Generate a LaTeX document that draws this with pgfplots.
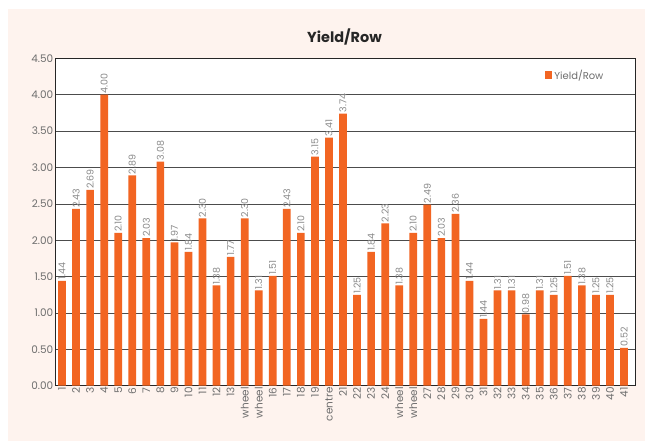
\documentclass[border=0pt]{standalone}
\usepackage{fontspec}
\setmainfont{Poppins}
\usepackage{pgfplots}
\pgfplotsset{compat=1.18}
\definecolor{barc}{HTML}{F26522}
\definecolor{bgc}{HTML}{FEF3EE}
\definecolor{txt}{HTML}{6E6E6E}
\definecolor{lbl}{HTML}{8A8A8A}
\begin{document}
\begin{tikzpicture}
\fill[white] (0bp,0bp) rectangle (645bp,441bp);
\fill[bgc] (8bp,0bp) rectangle (645bp,432bp);
\node[font=\bfseries\fontsize{14.5}{16}\selectfont, text=black!85] at (344.5bp,404bp) {Yield/Row};
\begin{axis}[
  at={(55bp,55.3bp)}, anchor=south west,
  scale only axis, width=580bp, height=327.4bp,
  ybar, bar width=7.7bp,
  ymin=0, ymax=4.5, ytick={0,0.5,...,4.5},
  xmin=0.5, xmax=41.78,
  xtick={1,...,41},
  xticklabels={1,2,3,4,5,6,7,8,9,10,11,12,13,wheel,wheel,16,17,18,19,centre,21,22,23,24,wheel,wheel,27,28,29,30,31,32,33,34,35,36,37,38,39,40,41},
  axis background/.style={fill=white},
  ymajorgrids, grid style={draw=black!70, line width=0.6pt},
  axis line style={draw=black!85, line width=0.7pt},
  major tick length=0pt,
  /pgf/number format/assume math mode=true,
  tick label style={font=\fontsize{10.5}{12}\selectfont, text=txt},
  x tick label style={rotate=90, anchor=east, inner sep=1.5pt},
  yticklabel style={/pgf/number format/fixed, /pgf/number format/fixed zerofill, /pgf/number format/precision=2, inner sep=1.5pt},
  nodes near coords,
  point meta=explicit symbolic,
  every node near coord/.append style={rotate=90, anchor=west, font=\fontsize{9.5}{11}\selectfont, text=lbl, inner sep=1pt},
  legend style={at={(0.844,0.948)}, anchor=west, draw=none, fill=none, font=\fontsize{10}{12}\selectfont, text=txt, inner sep=0pt},
  legend image code/.code={\fill[barc] (0bp,-3.85bp) rectangle (7.7bp,3.85bp);},
]
\addplot[fill=barc, draw=none] coordinates {
(1,1.44) [1.44]
(2,2.43) [2.43]
(3,2.69) [2.69]
(4,4.00) [4.00]
(5,2.10) [2.10]
(6,2.89) [2.89]
(7,2.03) [2.03]
(8,3.08) [3.08]
(9,1.97) [1.97]
(10,1.84) [1.84]
(11,2.30) [2.30]
(12,1.38) [1.38]
(13,1.77) [1.77]
(14,2.30) [2.30]
(15,1.31) [1.31]
(16,1.51) [1.51]
(17,2.43) [2.43]
(18,2.10) [2.10]
(19,3.15) [3.15]
(20,3.41) [3.41]
(21,3.74) [3.74]
(22,1.25) [1.25]
(23,1.84) [1.84]
(24,2.23) [2.23]
(25,1.38) [1.38]
(26,2.10) [2.10]
(27,2.49) [2.49]
(28,2.03) [2.03]
(29,2.36) [2.36]
(30,1.44) [1.44]
(31,0.92) [1.44]
(32,1.31) [1.31]
(33,1.31) [1.31]
(34,0.98) [0.98]
(35,1.31) [1.31]
(36,1.25) [1.25]
(37,1.51) [1.51]
(38,1.38) [1.38]
(39,1.25) [1.25]
(40,1.25) [1.25]
(41,0.52) [0.52]
};
\addlegendentry{Yield/Row}
\end{axis}
\end{tikzpicture}
\end{document}
